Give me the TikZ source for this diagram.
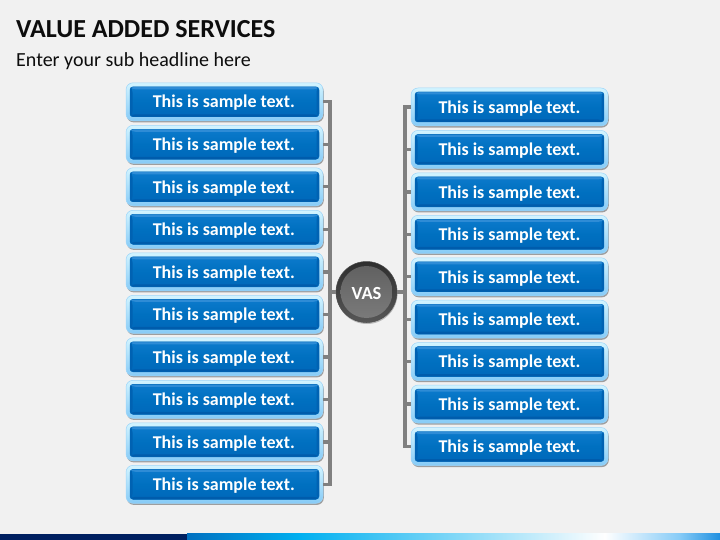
\documentclass[tikz,border=0pt]{standalone}
\usepackage{fontspec}
\setmainfont{Carlito}
\usetikzlibrary{shadows,calc}
\definecolor{pagebg}{HTML}{F1F1F1}
\definecolor{wire}{HTML}{808080}
\definecolor{rimtop}{HTML}{D2F4FF}
\definecolor{rimbot}{HTML}{86CBF7}
\definecolor{facetop}{HTML}{0C7ACC}
\definecolor{facemid}{HTML}{0070C0}
\definecolor{facebot}{HTML}{0068BA}
\definecolor{bevtop}{HTML}{2E8CD6}
\definecolor{bevbot}{HTML}{005CAC}
\definecolor{bevside}{HTML}{0062B2}
\definecolor{navy}{HTML}{002060}
\definecolor{bandA}{HTML}{0070C0}
\definecolor{bandB}{HTML}{00B0F0}
\definecolor{bandC}{HTML}{D8F2FC}
\definecolor{bandD}{HTML}{2090E0}
\tikzset{
  x=1pt,y=-1pt,
  rimbox/.style={minimum width=197pt,minimum height=38pt,rounded corners=7pt,inner sep=0pt,
    top color=rimtop,bottom color=rimbot,draw=rimbot!80!white,line width=0.5pt,
    drop shadow={shadow xshift=0.8pt,shadow yshift=-1.6pt,opacity=0.5,fill=black!70}},
  facebox/.style={minimum width=189pt,minimum height=30pt,rounded corners=3pt,inner sep=0pt,
    top color=facetop,bottom color=facebot,middle color=facemid,draw=facebot,line width=0.4pt,
    text=white,font=\bfseries\fontsize{18}{20}\selectfont,
    path picture={
      \coordinate (nw) at (path picture bounding box.north west);
      \coordinate (ne) at (path picture bounding box.north east);
      \coordinate (sw) at (path picture bounding box.south west);
      \coordinate (se) at (path picture bounding box.south east);
      \fill[bevtop] (nw) -- (ne) -- ++(-2.5,2.5) -- ($(nw)+(2.5,2.5)$) -- cycle;
      \fill[bevbot] (sw) -- (se) -- ++(-2.5,-2.5) -- ($(sw)+(2.5,-2.5)$) -- cycle;
      \fill[bevside] (nw) -- (sw) -- ++(2.5,-2.5) -- ($(nw)+(2.5,2.5)$) -- cycle;
      \fill[bevside] (ne) -- (se) -- ++(-2.5,-2.5) -- ($(ne)+(-2.5,2.5)$) -- cycle;
    }},
  wireline/.style={draw=wire,line width=3.4pt},
}
\begin{document}
\begin{tikzpicture}
\useasboundingbox (0,0) rectangle (720,540);
\fill[pagebg] (0,0) rectangle (720,540);
% bottom band
\fill[navy] (0,533.5) rectangle (187,540);
\fill[left color=bandA,right color=bandB] (187,533.5) rectangle (300,540);
\fill[left color=bandB,right color=bandC] (299.5,533.5) rectangle (560,540);
\fill[left color=bandC,right color=white] (559.5,533.5) rectangle (605,540);
\fill[left color=white,right color=rimbot] (604.5,533.5) rectangle (680,540);
\fill[left color=rimbot,right color=bandD] (679.5,533.5) rectangle (720,540);
% headings
\node[anchor=base west,inner sep=0pt,font=\bfseries\fontsize{26}{30}\selectfont,text=black!95] (title) at (16,37.2) {VALUE ADDED SERVICES};
\node[anchor=base west,inner sep=0pt,font=\fontsize{20}{24}\selectfont,text=black!95] (sub) at (16,66.5) {Enter your sub headline here};
% hub
\coordinate (lbusT) at (330,101.5);
\coordinate (lbusB) at (330,484);
\coordinate (rbusT) at (405,107);
\coordinate (rbusB) at (405,446.5);
\coordinate (lbusM) at (330,292);
\coordinate (rbusM) at (405,292);
\draw[wireline,line cap=rect] (lbusT) -- (lbusB);
\draw[wireline,line cap=rect] (rbusT) -- (rbusB);
% left column
\foreach \i in {0,...,9}{
  \pgfmathsetmacro{\yy}{101.8+42.5*\i}
  \node[rimbox] (Lr\i) at (224.5,\yy) {};
  \node[facebox] (L\i) at (224.5,\yy) {\raisebox{-6.2pt}[0pt][0pt]{\hspace{-1.4pt}This is sample text.}};
  \coordinate (Lb\i) at (330,\yy);
  \draw[wireline] (Lr\i.east) -- (Lb\i);
}
% right column
\foreach \i in {0,...,8}{
  \pgfmathsetmacro{\yy}{107+42.44*\i}
  \node[rimbox] (Rr\i) at (509.5,\yy) {};
  \node[facebox] (R\i) at (509.5,\yy) {\raisebox{-6.3pt}[0pt][0pt]{This is sample text.}};
  \coordinate (Rb\i) at (405,\yy);
  \draw[wireline] (Rb\i) -- (Rr\i.west);
}
% VAS
\node[circle,minimum size=61pt,inner sep=0pt,
  top color=black!82,bottom color=black!66,draw=black!70,line width=0.5pt,
  drop shadow={shadow xshift=0.5pt,shadow yshift=-1.5pt,opacity=0.35,fill=black!70}] (vasrim) at (366.5,292) {};
\node[circle,minimum size=52pt,inner sep=0pt,top color=black!62,bottom color=black!52,
  text=white,font=\bfseries\fontsize{18.5}{20}\selectfont] (vas) at (366.5,292) {\raisebox{-7pt}[0pt][0pt]{VAS}};
\draw[wireline] (lbusM) -- (vasrim.west);
\draw[wireline] (vasrim.east) -- (rbusM);
\end{tikzpicture}
\end{document}
